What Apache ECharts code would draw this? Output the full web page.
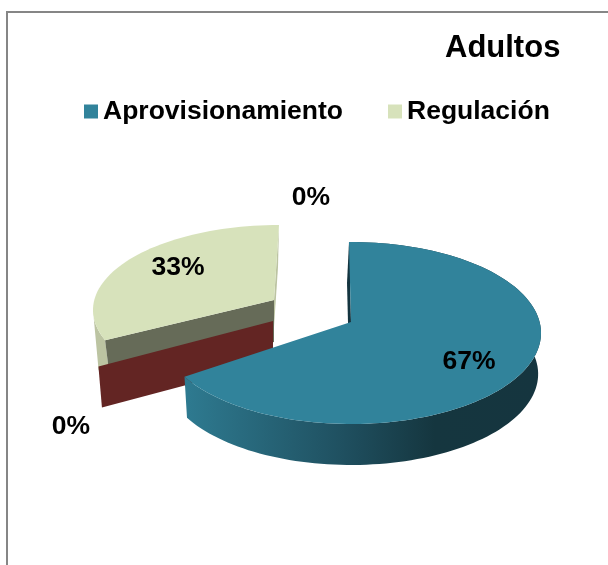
<!DOCTYPE html>
<html><head><meta charset="utf-8">
<style>html,body{margin:0;padding:0;background:#fff}#c{width:608px;height:565px}</style>
<script src="https://cdn.jsdelivr.net/npm/echarts@6/dist/echarts.min.js"></script>
</head><body><div id="c"></div>
<script>
const titleText = 'Adultos';
const categories = ['Aprovisionamiento', 'Sin categoría A', 'Regulación', 'Sin categoría B'];
const values = [67, 0, 33, 0];
const legendNames = ['Aprovisionamiento', 'Regulación'];

const FONT = '"Liberation Sans", Arial, sans-serif';
const looks = [
  { z: 4, top: '#31839b', cut: '#14343f', legend: '#31839b',
    apex: [351, 322], ctr: [351, 333], rx: 190, ry: 91, d: 41, wallD: 41, slope: 0.015, trimA: -0.6, trimB: 0,
    cutDx: -2, lx: 469, ly: 362,
    wall: () => new echarts.graphic.LinearGradient(186, 0, 541, 0,
      [{offset: 0, color: '#2e7a90'}, {offset: 0.45, color: '#1f4f5f'}, {offset: 0.7, color: '#15363f'}, {offset: 1, color: '#15353f'}], true) },
  { z: 3, top: '#632523', apex: [273, 321], ctr: [273, 330], rx: 188, ry: 98, d: 41, wallD: 41, slope: 0.02, trimA: 7, trimB: 7, lx: 71, ly: 427 },
  { z: 2, top: '#d7e2bb', cut: '#bcc4a2', face: '#666b58', legend: '#d7e2bb',
    apex: [274, 300], ctr: [279, 310], rx: 186, ry: 85, d: 42, wallD: 60, slope: 0.03, trimA: 8, trimB: 0, wallCap: 270,
    cutDx: -1, lx: 178, ly: 268, wall: () => '#bcc4a2' },
  { z: 5, top: 'transparent', apex: [351, 322], ctr: [351, 333], rx: 190, ry: 91, d: 0, wallD: 0, slope: 0, trimA: 0, trimB: 0, lx: 311, ly: 198 }
];

const total = values.reduce((a, b) => a + b, 0);
const spans = [];
values.reduce((acc, v) => { spans.push([acc, acc + v / total * 360]); return acc + v / total * 360; }, 0);

function poly(points, fill, z2) {
  return { type: 'polygon', z2, shape: { points }, style: { fill } };
}
function renderSlice(i) {
  return function (params, api) {
    const L = looks[i];
    const v = api.value(0);
    const a0 = spans[i][0] + L.trimA;
    const a1 = spans[i][1] + L.trimB;
    const at = deg => {
      const t = deg * Math.PI / 180;
      return [L.ctr[0] + L.rx * Math.sin(t), L.ctr[1] - L.ry * Math.cos(t)];
    };
    const down = (p, depth) => [p[0] + (L.ctr[0] - p[0]) * L.slope, p[1] + depth];
    const sample = (from, to) => {
      const pts = [];
      const n = Math.max(1, Math.ceil(Math.abs(to - from) / 2));
      for (let k = 0; k <= n; k++) pts.push(at(from + (to - from) * k / n));
      return pts;
    };
    const children = [];
    const arc = sample(a0, a1);
    if (v > 0) {
      // outer wall
      if (L.wallCap) {
        const cap = at(L.wallCap);
        const part = sample(a0, L.wallCap);
        children.push(poly(part.concat([down(cap, L.wallD), down(at(a0), L.d)]), L.wall(), 1));
      } else {
        children.push(poly(arc.concat(arc.map(p => down(p, L.wallD)).reverse()), L.wall(), 1));
      }
      // inner cut at the 12 o'clock edge
      const s = at(i === 2 ? a1 : a0);
      children.push(poly([s, L.apex, [L.apex[0] + L.cutDx, L.apex[1] + L.d], [s[0] + L.cutDx, s[1] + L.d]], L.cut, 2));
      // inner cut at the other edge
      if (L.face) {
        const e = at(a0);
        children.push(poly([e, L.apex, [L.apex[0], L.apex[1] + L.d], down(e, L.d)], L.face, 3));
      }
      // top surface
      children.push(poly([L.apex].concat(arc), L.top, 4));
    } else if (L.d > 0) {
      // a zero-width slice only shows its cut face
      const e = at(a0);
      children.push(poly([e, L.apex, [L.apex[0], L.apex[1] + L.d], down(e, L.d)], L.top, 4));
    }
    children.push({
      type: 'text', z2: 10, x: L.lx, y: L.ly,
      style: { text: v + '%', font: 'bold 26.5px ' + FONT, fill: '#000', align: 'center', verticalAlign: 'middle' }
    });
    return { type: 'group', children };
  };
}

const chart = echarts.init(document.getElementById('c'), null, { renderer: 'canvas' });
chart.setOption({
  animation: false,
  backgroundColor: '#fff',
  title: { text: titleText, left: 445, top: 33, padding: 0,
    textStyle: { fontFamily: FONT, fontWeight: 'bold', fontSize: 31, color: '#000' } },
  legend: { data: legendNames, left: 84, top: 98, padding: 0, itemWidth: 14, itemHeight: 14, itemGap: 45,
    icon: 'rect', selectedMode: false,
    textStyle: { fontFamily: FONT, fontWeight: 'bold', fontSize: 26.5, color: '#000', padding: [0, 0, 0, 0] } },
  graphic: [{ type: 'polyline', silent: true,
    shape: { points: [[7, 565], [7, 12], [608, 12]] },
    style: { stroke: '#868686', lineWidth: 2, fill: 'none' } }],
  series: categories.map((name, i) => ({
    type: 'custom', name, coordinateSystem: 'none', silent: true, z: looks[i].z,
    itemStyle: { color: looks[i].legend || looks[i].top },
    renderItem: renderSlice(i),
    data: [[values[i]]]
  }))
});
</script></body></html>
